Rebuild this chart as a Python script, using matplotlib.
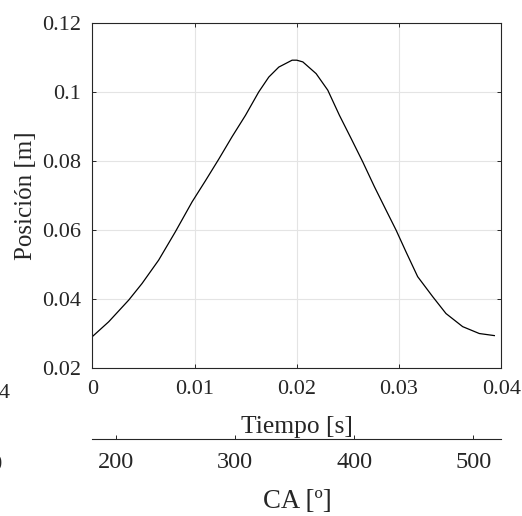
import matplotlib
matplotlib.use("Agg")
import matplotlib.pyplot as plt

# Piston position versus time
tiempo = [0.0, 0.0016, 0.00356, 0.00486, 0.00649, 0.00812, 0.00976, 0.01106,
          0.01237, 0.01367, 0.01498, 0.01628, 0.01726, 0.01824, 0.01954,
          0.02, 0.02059, 0.02189, 0.02303, 0.02417, 0.02531, 0.02645,
          0.02759, 0.02873, 0.02971, 0.03068, 0.03182, 0.03329, 0.03459,
          0.03622, 0.03785, 0.03932]
posicion = [0.0291, 0.0334, 0.0397, 0.0445, 0.0513, 0.0595, 0.0682, 0.0743,
            0.0806, 0.0871, 0.0933, 0.1001, 0.1044, 0.1073, 0.1093,
            0.1093, 0.1088, 0.1054, 0.1006, 0.0933, 0.0866, 0.0798,
            0.0726, 0.0658, 0.06, 0.0537, 0.0465, 0.0407, 0.0358,
            0.032, 0.03, 0.0294]

t_ticks = [0, 0.01, 0.02, 0.03, 0.04]
t_labels = ["0", "0.01", "0.02", "0.03", "0.04"]
y_ticks = [0.02, 0.04, 0.06, 0.08, 0.1, 0.12]
y_labels = ["0.02", "0.04", "0.06", "0.08", "0.1", "0.12"]
ca_lim = [180, 523.7]
ca_ticks = [200, 300, 400, 500]
ca_labels = ["200", "300", "400", "500"]

plt.rcParams["font.family"] = ["Liberation Serif", "DejaVu Serif"]
dark = "#262626"

W, H = 522, 516
fig = plt.figure(figsize=(W / 100, H / 100), dpi=100)

# main axes (pixel box: x 92.3..501.3, y 23.3..368)
left, right, top, bottom = 92.3, 501.3, 23.3, 368.0
ax = fig.add_axes([left / W, 1 - bottom / H, (right - left) / W, (bottom - top) / H])
ax.plot(tiempo, posicion, color="black", lw=0.9, solid_joinstyle="round")
ax.set_xlim(0, 0.04)
ax.set_ylim(0.02, 0.12)
ax.set_xticks(t_ticks)
ax.set_xticklabels(t_labels)
ax.set_yticks(y_ticks)
ax.set_yticklabels(y_labels)
ax.grid(True, color="#e4e4e4", lw=0.8)
ax.set_axisbelow(True)
for s in ax.spines.values():
    s.set_color(dark)
    s.set_linewidth(0.8)
ax.tick_params(direction="in", length=3, width=0.7, colors=dark,
               labelsize=16, top=True, right=True, pad=8)
ax.tick_params(axis="x", pad=9)

ax.set_xlabel("Tiempo [s]", fontsize=18.4, color=dark)
ax.xaxis.label.set_verticalalignment("baseline")
ax.xaxis.set_label_coords(0.5, (bottom - 433) / (bottom - top))

ax.set_ylabel("Posición [m]", fontsize=18, color=dark)
ax.yaxis.label.set_verticalalignment("baseline")
ax.yaxis.set_label_coords((32.5 - left) / (right - left), 0.5)

# crank-angle axis below
ca_y = 439.0
cax = fig.add_axes([left / W, 1 - ca_y / H, (501.5 - left) / W, 1e-6])
cax.set_xlim(*ca_lim)
cax.set_xticks(ca_ticks)
cax.set_xticklabels(ca_labels)
cax.set_yticks([])
cax.patch.set_visible(False)
for name in ("left", "right", "top"):
    cax.spines[name].set_visible(False)
cax.spines["bottom"].set_color(dark)
cax.spines["bottom"].set_linewidth(0.8)
cax.tick_params(axis="x", direction="in", length=3, width=0.7, colors=dark,
                labelsize=17.5, pad=9)
fig.text((left + 501.5) / 2 / W, 1 - 508 / H, "CA [º]", ha="center",
         va="baseline", fontsize=19.3, color=dark)

# neighbouring tick labels at the left edge
fig.text(10 / W, 1 - 398 / H, "0.04", ha="right", va="baseline",
         fontsize=16, color=dark)
fig.text(3 / W, 1 - 470 / H, "500", ha="right", va="baseline",
         fontsize=17.5, color=dark)

fig.savefig("out.png", dpi=100)
